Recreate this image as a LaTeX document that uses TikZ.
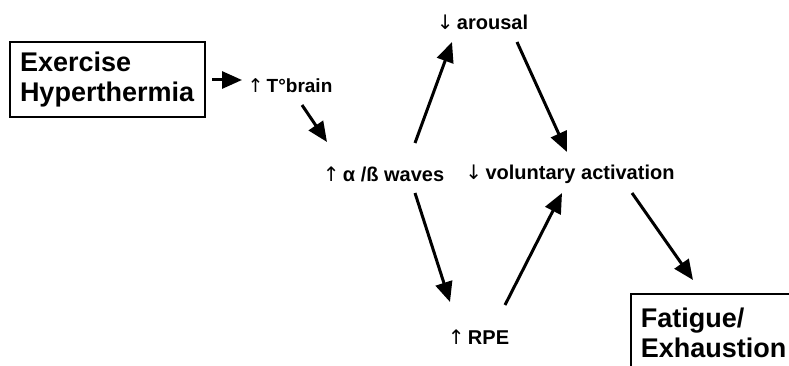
\documentclass[tikz,border=0pt]{standalone}
\usepackage{fontspec}
\setmainfont{Liberation Sans}
\newfontfamily\arrowfont{DejaVu Sans}
\usetikzlibrary{arrows.meta}
\tikzset{
  lbl/.style={inner sep=0pt, font=\bfseries\fontsize{20}{22}\selectfont},
  bigbox/.style={draw, line width=1.5pt, align=left, font=\bfseries\fontsize{27}{30}\selectfont},
  arr/.style={line width=3pt, -{Triangle[length=20pt,width=17pt]}},
}
\newcommand{\up}{{\arrowfont\mdseries\char"2191}\,}
\newcommand{\dn}{{\arrowfont\mdseries\char"2193}\,}
\begin{document}
\begin{tikzpicture}[x=1pt,y=-1pt]
\useasboundingbox (0,0) rectangle (789,366);
\clip (0,0) rectangle (789,366);
\fill[white] (0,0) rectangle (789,366);
\node[bigbox, minimum width=195pt, minimum height=75pt, text width=175pt] (ex) at (107.5,79.5) {Exercise\\Hyperthermia};
\node[lbl, font=\bfseries\fontsize{19}{21}\selectfont] (tb) at (290,86) {\up T°brain};
\node[lbl] (ar) at (482.5,22) {\dn arousal};
\node[lbl] (wv) at (383.5,174) {\up α /ß waves};
\node[lbl] (va) at (570,174) {\dn voluntary activation};
\node[lbl] (rpe) at (478.5,337) {\up RPE};
\node[bigbox, anchor=north west, inner xsep=7pt, inner ysep=14pt, minimum width=200pt, text width=180pt, text depth=40pt] (fa) at (630,293) {Fatigue/\\Exhaustion};
\draw[arr] ([shift={(104.5,0.5)}]ex.center) -- ([shift={(-48,-6)}]tb.center);
\draw[arr] ([shift={(12,19)}]tb.center) -- ([shift={(-56.5,-32)}]wv.center);
\draw[arr] ([shift={(31.5,-31)}]wv.center) -- ([shift={(-30.5,20)}]ar.center);
\draw[arr] ([shift={(34.5,20)}]ar.center) -- ([shift={(-3,-22)}]va.center);
\draw[arr] ([shift={(31.5,19)}]wv.center) -- ([shift={(-28.5,-35)}]rpe.center);
\draw[arr] ([shift={(26.5,-32)}]rpe.center) -- ([shift={(-8,19)}]va.center);
\draw[arr] ([shift={(62,19)}]va.center) -- ([shift={(63,-13)}]fa.north west);
\end{tikzpicture}
\end{document}
